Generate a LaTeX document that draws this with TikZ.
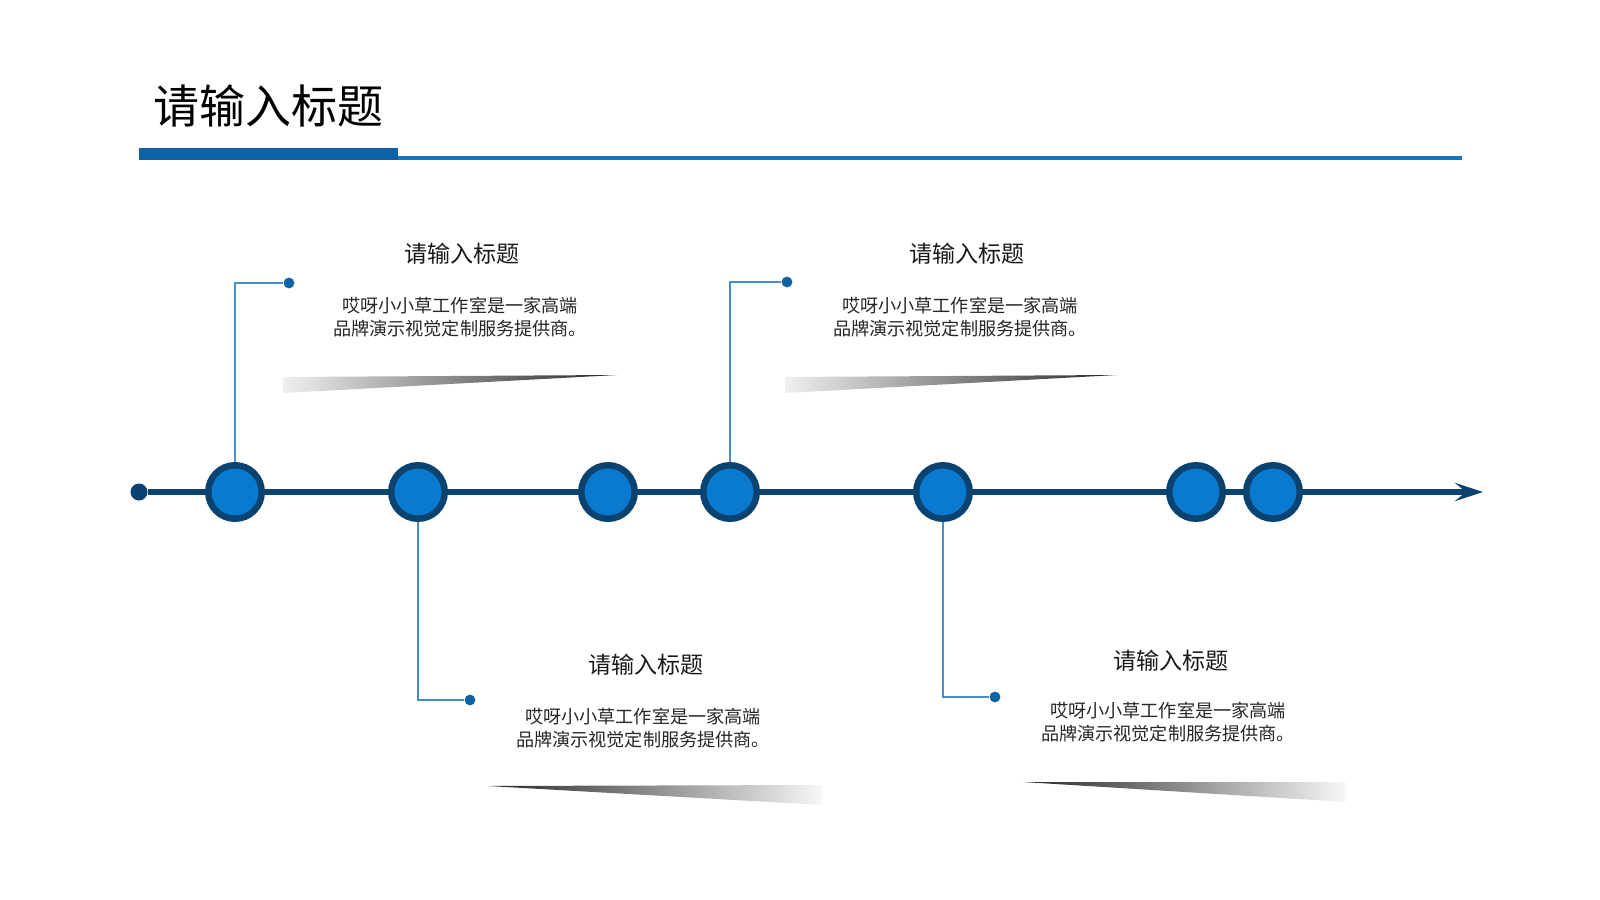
\documentclass[tikz,border=0pt]{standalone}
\usepackage{fontspec}
\setmainfont{Noto Sans CJK SC}
\usetikzlibrary{arrows.meta, shapes.geometric}
\definecolor{navy}{HTML}{0A4370}
\definecolor{dotblue}{HTML}{0A7AD0}
\definecolor{barblue}{HTML}{0D62A3}
\definecolor{ruleblue}{HTML}{1475C0}
\definecolor{pinblue}{HTML}{4A8CC8}
\tikzstyle{milestone} = [circle, draw=navy, fill=dotblue, line width=4.6pt, minimum size=1.3375cm, inner sep=0pt]
\tikzstyle{pindot} = [circle, fill=barblue, minimum size=0.27cm, inner sep=0pt]
\tikzstyle{pinline} = [draw=pinblue, line width=1pt]
\tikzstyle{head} = [font=\fontsize{16.4}{20}\selectfont, text=black!90, inner sep=0pt]
\tikzstyle{body} = [font=\fontsize{12.9}{16}\selectfont, align=center, text=black!85, inner sep=0pt]

\begin{document}
\begin{tikzpicture}[x=0.025cm, y=-0.025cm]
   \useasboundingbox (0,0) rectangle (1600,900);

   % Page title and rule
   \node[font=\fontsize{32.7}{38}\selectfont, anchor=west, inner sep=0pt] (pagetitle) at (153,106) {请输入标题};
   \fill[barblue] (139,148) rectangle (398,160);
   \draw[ruleblue, line width=2.5pt] (398,158) -- (1462,158);

   % Shadows under the text blocks
   \shade[left color=black!6, right color=black!85] (283,377) -- (617,375) -- (283,393) -- cycle;
   \shade[left color=black!6, right color=black!85] (785,377) -- (1117,375) -- (785,393) -- cycle;
   \shade[left color=black!85, right color=black!3] (488,786) -- (822,785) -- (822,805) -- cycle;
   \shade[left color=black!85, right color=black!3] (1023,782) -- (1346,782) -- (1346,802) -- cycle;

   % Timeline
   \node[circle, fill=navy, minimum size=0.425cm, inner sep=0pt] (start) at (139,492) {};
   \coordinate (tip) at (1483,492);
   \draw[navy, line width=4.3pt, -{Stealth[length=20pt, width=13pt, inset=8pt]}] (start) -- (tip);

   % Milestones
   \node[milestone] (c1) at (235,492) {};
   \node[milestone] (c2) at (418,492) {};
   \node[milestone] (c3) at (608,492) {};
   \node[milestone] (c4) at (730,492) {};
   \node[milestone] (c5) at (943,492) {};
   \node[milestone] (c6) at (1196,492) {};
   \node[milestone] (c7) at (1273,492) {};

   % Pins
   \node[pindot] (d1) at (289,283) {};
   \node[pindot] (d2) at (470,700) {};
   \node[pindot] (d3) at (787,282) {};
   \node[pindot] (d4) at (995,697) {};
   \draw[pinline] (c1.north) |- (d1);
   \draw[pinline] (c2.south) |- (d2);
   \draw[pinline] (c4.north) |- (d3);
   \draw[pinline] (c5.south) |- (d4);

   % Text blocks
   \node[head] (h1) at (462,254) {请输入标题};
   \node[body] (b1) at (460,317) {哎呀小小草工作室是一家高端\\品牌演示视觉定制服务提供商。};
   \node[head] (h2) at (646,665) {请输入标题};
   \node[body] (b2) at (643,728) {哎呀小小草工作室是一家高端\\品牌演示视觉定制服务提供商。};
   \node[head] (h3) at (967,254) {请输入标题};
   \node[body] (b3) at (960,317) {哎呀小小草工作室是一家高端\\品牌演示视觉定制服务提供商。};
   \node[head] (h4) at (1171,661) {请输入标题};
   \node[body] (b4) at (1168,722) {哎呀小小草工作室是一家高端\\品牌演示视觉定制服务提供商。};

\end{tikzpicture}
\end{document}
